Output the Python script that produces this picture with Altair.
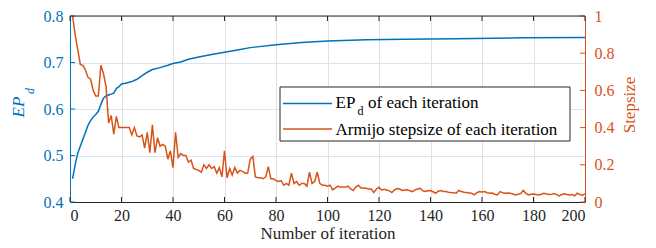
import altair as alt
import pandas as pd

# ---- data ----
ep_iter = [1, 2, 3, 4, 5, 6, 7, 8, 9, 10, 11, 12, 13, 14, 15, 16, 17, 18, 19, 20,
           22, 24, 26, 28, 30, 32, 35, 38, 40, 43, 46, 50, 55, 60, 65, 70, 80, 90,
           100, 115, 130, 150, 175, 200]
ep_vals = [0.450, 0.480, 0.505, 0.520, 0.535, 0.550, 0.565, 0.575, 0.583, 0.588,
           0.595, 0.610, 0.623, 0.628, 0.630, 0.632, 0.634, 0.644, 0.648, 0.654,
           0.656, 0.659, 0.664, 0.672, 0.679, 0.685, 0.689, 0.694, 0.698, 0.701,
           0.707, 0.712, 0.717, 0.722, 0.727, 0.732, 0.738, 0.743, 0.746, 0.749,
           0.750, 0.751, 0.753, 0.754]

step_vals = [
    1.0, 0.90, 0.82, 0.74, 0.735, 0.71, 0.67, 0.66, 0.60, 0.57,
    0.57, 0.735, 0.69, 0.62, 0.425, 0.465, 0.365, 0.46, 0.40, 0.40,
    0.40, 0.40, 0.40, 0.36, 0.40, 0.355, 0.35, 0.36, 0.29, 0.375,
    0.265, 0.415, 0.265, 0.345, 0.30, 0.31, 0.30, 0.23, 0.275, 0.185,
    0.375, 0.24, 0.26, 0.25, 0.25, 0.215, 0.225, 0.18, 0.175, 0.17,
    0.16, 0.20, 0.18, 0.20, 0.18, 0.19, 0.155, 0.185, 0.135, 0.275,
    0.13, 0.18, 0.145, 0.185, 0.155, 0.17, 0.165, 0.155, 0.155, 0.23,
    0.245, 0.135, 0.13, 0.13, 0.125, 0.135, 0.19, 0.125, 0.125, 0.115,
    0.11, 0.115, 0.09, 0.10, 0.09, 0.155, 0.10, 0.11, 0.09, 0.10,
    0.10, 0.085, 0.16, 0.10, 0.11, 0.16, 0.10, 0.09, 0.09, 0.085,
    0.09, 0.065, 0.075, 0.085, 0.08, 0.08, 0.08, 0.085, 0.07, 0.062,
    0.08, 0.09, 0.075, 0.075, 0.074, 0.07, 0.07, 0.051, 0.07, 0.079,
    0.065, 0.068, 0.065, 0.06, 0.051, 0.065, 0.072, 0.07, 0.062, 0.065,
    0.066, 0.06, 0.056, 0.065, 0.07, 0.074, 0.06, 0.056, 0.06, 0.062,
    0.055, 0.047, 0.058, 0.062, 0.057, 0.056, 0.053, 0.051, 0.05, 0.047,
    0.062, 0.056, 0.052, 0.051, 0.049, 0.047, 0.038, 0.05, 0.056, 0.054,
    0.056, 0.05, 0.047, 0.048, 0.042, 0.038, 0.056, 0.05, 0.047, 0.048,
    0.047, 0.043, 0.038, 0.042, 0.045, 0.062, 0.048, 0.038, 0.042, 0.043,
    0.04, 0.038, 0.042, 0.047, 0.043, 0.04, 0.041, 0.046, 0.04, 0.033,
    0.04, 0.044, 0.04, 0.038, 0.04, 0.033, 0.047, 0.04, 0.036, 0.044,
]
step_iter = list(range(1, len(step_vals) + 1))

x_ticks = [0, 20, 40, 60, 80, 100, 120, 140, 160, 180, 200]
left_ticks = [0.4, 0.5, 0.6, 0.7, 0.8]
right_ticks = [0, 0.2, 0.4, 0.6, 0.8, 1.0]

legend_labels = ["EP", "d", "of each iteration", "Armijo stepsize of each iteration"]
x_title = "Number of iteration"
right_title = "Stepsize"

# ---- style ----
BLUE = "#0072BD"
ORANGE = "#D95319"
DARK = "#262626"
FONT = "Liberation Serif"
W, H = 515, 186

xscale = alt.Scale(domain=[0, 200], nice=False, zero=False)
yl = alt.Scale(domain=[0.4, 0.8], nice=False, zero=False)
yr = alt.Scale(domain=[0, 1], nice=False, zero=False)

xaxis = alt.Axis(values=x_ticks, format="d", grid=True, gridColor="#e0e0e0",
                 domainColor=DARK, tickSize=0, labelColor=DARK, labelFont=FONT,
                 labelFontSize=16, labelPadding=5, titleFont=FONT, titleFontSize=17,
                 titleFontWeight="normal", titleColor=DARK, titlePadding=2)

ep_df = pd.DataFrame({"it": ep_iter, "ep": ep_vals})
st_df = pd.DataFrame({"it": step_iter, "step": step_vals})
xt_df = pd.DataFrame({"it": x_ticks})
lt_df = pd.DataFrame({"v": left_ticks})
rt_df = pd.DataFrame({"v": right_ticks})
one = pd.DataFrame({"a": [0]})

def X():
    return alt.X("it:Q", scale=xscale, title=x_title, axis=xaxis)

blue = alt.Chart(ep_df).mark_line(color=BLUE, strokeWidth=1.5).encode(
    x=X(),
    y=alt.Y("ep:Q", scale=yl, title="",
            axis=alt.Axis(values=left_ticks, format=".1f", grid=True, gridColor="#d5e5f3",
                          domainColor=BLUE, tickSize=0, labelColor=BLUE, labelFont=FONT,
                          labelFontSize=16, labelPadding=7)),
)

orange = alt.Chart(st_df).mark_line(color=ORANGE, strokeWidth=1.5).encode(
    x=X(),
    y=alt.Y("step:Q", scale=yr, title="",
            axis=alt.Axis(orient="right", values=right_ticks, format="~g", grid=False,
                          domainColor=ORANGE, tickSize=0, labelColor=ORANGE, labelFont=FONT,
                          labelFontSize=16, labelPadding=9)),
)

xt_bottom = alt.Chart(xt_df).mark_rule(color=DARK, strokeWidth=1).encode(
    x=X(), y=alt.value(H), y2=alt.value(H - 5))
xt_top = alt.Chart(xt_df).mark_rule(color=DARK, strokeWidth=1).encode(
    x=X(), y=alt.value(0), y2=alt.value(5))
lt = alt.Chart(lt_df).mark_rule(color=BLUE, strokeWidth=1).encode(
    y=alt.Y("v:Q", scale=yl, axis=None), x=alt.value(0), x2=alt.value(5))
rt = alt.Chart(rt_df).mark_rule(color=ORANGE, strokeWidth=1).encode(
    y=alt.Y("v:Q", scale=yr, axis=None), x=alt.value(W), x2=alt.value(W - 5))
top_border = alt.Chart(one).mark_rule(color=DARK, strokeWidth=1).encode(
    x=alt.value(0), x2=alt.value(W), y=alt.value(0))

# legend
leg_box = alt.Chart(one).mark_rect(fill="white", stroke=DARK, strokeWidth=1).encode(
    x=alt.value(210), x2=alt.value(500), y=alt.value(71), y2=alt.value(125))
leg_l1 = alt.Chart(one).mark_rule(color=BLUE, strokeWidth=1.5).encode(
    x=alt.value(213), x2=alt.value(262), y=alt.value(87.5))
leg_l2 = alt.Chart(one).mark_rule(color=ORANGE, strokeWidth=1.5).encode(
    x=alt.value(213), x2=alt.value(262), y=alt.value(113))
tstyle = dict(font=FONT, color="black", align="left", baseline="alphabetic")
leg_t1 = alt.Chart(one).mark_text(fontSize=17, **tstyle).encode(
    x=alt.value(265.5), y=alt.value(92), text=alt.value(legend_labels[0]))
leg_t1d = alt.Chart(one).mark_text(fontSize=12, **tstyle).encode(
    x=alt.value(287.5), y=alt.value(98.5), text=alt.value(legend_labels[1]))
leg_t1b = alt.Chart(one).mark_text(fontSize=17, **tstyle).encode(
    x=alt.value(298), y=alt.value(92), text=alt.value(legend_labels[2]))
leg_t2 = alt.Chart(one).mark_text(fontSize=17, **tstyle).encode(
    x=alt.value(265.5), y=alt.value(119), text=alt.value(legend_labels[3]))

# y titles
ytl = alt.Chart(one).mark_text(font=FONT, fontSize=17, fontStyle="italic", color=BLUE,
                               angle=270, align="center", baseline="alphabetic").encode(
    x=alt.value(-46), y=alt.value(91), text=alt.value("EP"))
ytl_d = alt.Chart(one).mark_text(font=FONT, fontSize=12, fontStyle="italic", color=BLUE,
                                 angle=270, align="center", baseline="alphabetic").encode(
    x=alt.value(-36), y=alt.value(75), text=alt.value("d"))
ytr = alt.Chart(one).mark_text(font=FONT, fontSize=17, color=ORANGE,
                               angle=270, align="center", baseline="middle").encode(
    x=alt.value(560), y=alt.value(89), text=alt.value(right_title))

chart = alt.layer(
    blue, orange, xt_bottom, xt_top, lt, rt, top_border,
    leg_box, leg_l1, leg_l2, leg_t1, leg_t1d, leg_t1b, leg_t2,
    ytl, ytl_d, ytr,
).resolve_scale(y="independent").properties(
    width=W, height=H,
    autosize=alt.AutoSizeParams(type="none"),
    padding={"left": 62, "top": 8, "right": 60, "bottom": 44},
    background="white",
).configure_view(stroke=None)

chart.save("out.html", embed_options={"renderer": "svg", "actions": False})
